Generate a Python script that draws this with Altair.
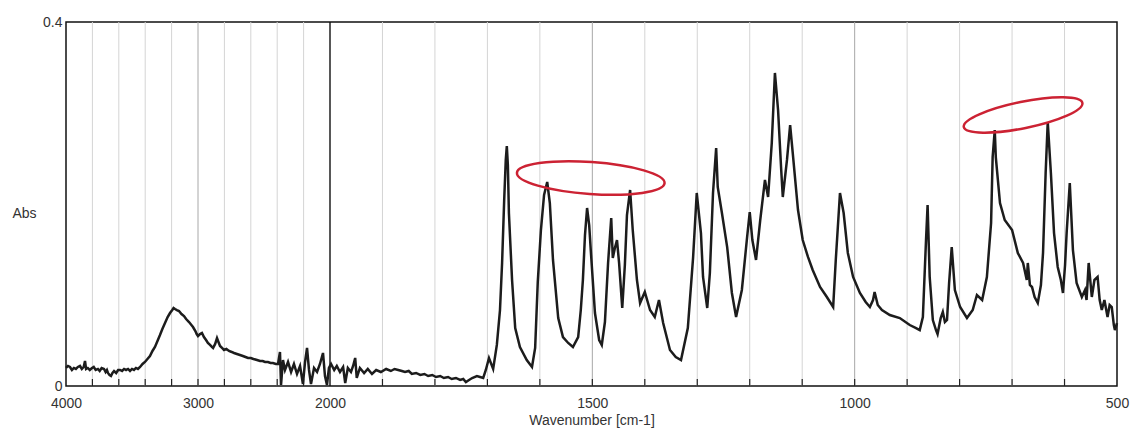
import altair as alt
import pandas as pd

# ---- spectrum (wavenumber cm-1, absorbance) ----
wavenumber = [
    4000, 3985, 3970, 3955, 3940, 3925, 3910, 3894, 3880, 3866, 3856, 3848, 3835, 3820, 3803,
    3790, 3775, 3758, 3745, 3730, 3712, 3700, 3690, 3682, 3670, 3659, 3648, 3636, 3620, 3605,
    3591, 3575, 3560, 3545, 3530, 3515, 3500, 3485, 3470, 3455, 3439, 3420, 3402,
    3383, 3364, 3345, 3326, 3307, 3288, 3270, 3250, 3230, 3212, 3195, 3185, 3174, 3160, 3144,
    3125, 3106, 3090, 3068, 3050, 3038, 3020, 3010, 3000, 2985, 2970, 2955, 2939, 2925, 2909,
    2895, 2886, 2870, 2856, 2845, 2833, 2818, 2803, 2785, 2765, 2745, 2727, 2705, 2682, 2660,
    2640, 2621, 2600, 2580, 2553, 2530, 2510, 2492, 2470, 2450, 2432, 2410, 2394,
    2379, 2371, 2356, 2341, 2318, 2295, 2273, 2250, 2227, 2205, 2189, 2174, 2159, 2144, 2121,
    2098, 2076, 2053, 2038, 2023, 2008,
    1998, 1992, 1987, 1981, 1975, 1971, 1966, 1960, 1956, 1952, 1949, 1943, 1935, 1928, 1920,
    1912, 1903, 1893, 1884, 1877, 1870, 1863, 1857, 1850, 1844, 1836, 1828, 1820, 1813, 1805,
    1798, 1790, 1783, 1775, 1768, 1760, 1752, 1746, 1741, 1735, 1729, 1720, 1714, 1708,
    1703, 1697, 1689, 1682, 1676, 1672, 1668, 1665, 1663, 1661, 1659, 1653, 1647,
    1638, 1625, 1615, 1609, 1604, 1598, 1592, 1586, 1581, 1575, 1565, 1556, 1546, 1537, 1527,
    1522, 1518, 1514, 1510, 1506, 1503, 1495, 1487, 1482, 1476, 1470, 1464, 1461, 1457, 1453,
    1449, 1443, 1438, 1434, 1428, 1423, 1415, 1409, 1400, 1390, 1381, 1373, 1365, 1352, 1341,
    1331, 1318, 1308, 1301, 1293, 1289, 1281, 1276, 1270, 1264, 1261, 1253, 1243, 1234, 1226,
    1215, 1205, 1200, 1195, 1188, 1180, 1171, 1165, 1158, 1152, 1146, 1140, 1137, 1129, 1123,
    1118, 1108, 1099, 1089, 1080, 1066, 1053, 1041, 1036, 1028, 1021, 1013, 1003, 990, 979,
    971, 965, 962, 956, 948, 933, 914, 895, 883, 876, 870, 864, 861, 857, 851,
    845, 842, 836, 832, 828, 824, 820, 815, 809, 799, 786, 775, 767, 757, 748,
    740, 737, 733, 731, 723, 714, 700, 689, 679, 672, 670, 666, 662, 657, 651,
    645, 641, 636, 632, 626, 620, 613, 607, 603, 599, 596, 590, 584, 577, 567,
    561, 558, 554, 548, 543, 537, 533, 529, 524, 518, 514, 510, 506, 504, 500,
]
absorbance = [
    0.0198, 0.0220, 0.0209, 0.0176, 0.0198, 0.0187, 0.0209, 0.0220, 0.0187, 0.0209, 0.0275, 0.0187, 0.0198, 0.0176, 0.0198,
    0.0209, 0.0176, 0.0187, 0.0165, 0.0198, 0.0187, 0.0154, 0.0176, 0.0143, 0.0121, 0.0110, 0.0143, 0.0165, 0.0143, 0.0176,
    0.0176, 0.0165, 0.0187, 0.0176, 0.0187, 0.0165, 0.0187, 0.0176, 0.0198, 0.0187, 0.0209, 0.0242, 0.0264,
    0.0297, 0.0330, 0.0385, 0.0429, 0.0495, 0.0560, 0.0626, 0.0692, 0.0758, 0.0802, 0.0835, 0.0857, 0.0846, 0.0835, 0.0824,
    0.0791, 0.0769, 0.0736, 0.0703, 0.0670, 0.0648, 0.0604, 0.0571, 0.0549, 0.0571, 0.0582, 0.0538, 0.0505, 0.0473, 0.0451,
    0.0429, 0.0418, 0.0462, 0.0527, 0.0484, 0.0440, 0.0418, 0.0396, 0.0407, 0.0385, 0.0374, 0.0363, 0.0352, 0.0341, 0.0330,
    0.0319, 0.0308, 0.0308, 0.0297, 0.0286, 0.0275, 0.0275, 0.0264, 0.0264, 0.0253, 0.0253, 0.0242, 0.0242,
    0.0374, 0.0011, 0.0286, 0.0176, 0.0264, 0.0154, 0.0242, 0.0132, 0.0220, 0.0022, 0.0264, 0.0418, 0.0176, 0.0022, 0.0198,
    0.0154, 0.0242, 0.0363, 0.0110, 0.0011, 0.0198,
    0.0242, 0.0176, 0.0220, 0.0154, 0.0209, 0.0033, 0.0198, 0.0154, 0.0220, 0.0308, 0.0088, 0.0198, 0.0143, 0.0187, 0.0132,
    0.0176, 0.0154, 0.0187, 0.0165, 0.0187, 0.0176, 0.0165, 0.0154, 0.0165, 0.0132, 0.0143, 0.0121, 0.0132, 0.0110, 0.0121,
    0.0099, 0.0110, 0.0088, 0.0099, 0.0077, 0.0088, 0.0066, 0.0077, 0.0044, 0.0066, 0.0088, 0.0110, 0.0099, 0.0088,
    0.0176, 0.0308, 0.0187, 0.0451, 0.0835, 0.1352, 0.2044, 0.2484, 0.2637, 0.2429, 0.1901, 0.1165, 0.0637,
    0.0429, 0.0286, 0.0209, 0.0418, 0.1143, 0.1714, 0.2099, 0.2242, 0.2011, 0.1385, 0.0747, 0.0538, 0.0473, 0.0429, 0.0538,
    0.0835, 0.1165, 0.1659, 0.1956, 0.1769, 0.1494, 0.0802, 0.0505, 0.0451, 0.0703, 0.1352, 0.1846, 0.1407, 0.1516, 0.1604,
    0.1352, 0.0857, 0.1330, 0.1879, 0.2154, 0.1714, 0.1165, 0.0912, 0.1033, 0.0835, 0.0758, 0.0945, 0.0692, 0.0396, 0.0319,
    0.0286, 0.0637, 0.1407, 0.2121, 0.1681, 0.1198, 0.0857, 0.1242, 0.2121, 0.2615, 0.2187, 0.1901, 0.1527, 0.1022, 0.0758,
    0.1055, 0.1637, 0.1912, 0.1604, 0.1385, 0.1824, 0.2264, 0.2077, 0.2670, 0.3440, 0.3033, 0.2374, 0.2077, 0.2484, 0.2868,
    0.2560, 0.1934, 0.1604, 0.1418, 0.1275, 0.1088, 0.0978, 0.0868, 0.1385, 0.2121, 0.1901, 0.1462, 0.1198, 0.1022, 0.0923,
    0.0868, 0.0945, 0.1033, 0.0890, 0.0835, 0.0780, 0.0747, 0.0670, 0.0637, 0.0615, 0.0758, 0.1604, 0.1989, 0.1198, 0.0725,
    0.0615, 0.0571, 0.0747, 0.0813, 0.0703, 0.0725, 0.1132, 0.1527, 0.1055, 0.0868, 0.0747, 0.0835, 0.1000, 0.0945, 0.1198,
    0.1791, 0.2516, 0.2813, 0.2516, 0.2011, 0.1824, 0.1714, 0.1462, 0.1352, 0.1165, 0.1352, 0.1110, 0.1088, 0.0978, 0.0912,
    0.1110, 0.1462, 0.2341, 0.2901, 0.2341, 0.1681, 0.1308, 0.1165, 0.1022, 0.1330, 0.1681, 0.2231, 0.1494, 0.1132, 0.0978,
    0.1055, 0.0945, 0.1352, 0.0978, 0.1165, 0.1198, 0.0945, 0.0835, 0.0945, 0.0758, 0.0890, 0.0868, 0.0670, 0.0615, 0.0692,
]

# ---- axis / grid values ----
x_tick_labels = [4000, 3000, 2000, 1500, 1000, 500]
minor_grid = [3800, 3600, 3400, 3200, 2800, 2600, 2400, 2200,
              1900, 1800, 1700, 1600, 1400, 1300, 1200, 1100,
              900, 800, 700, 600]
major_grid = [3000, 1500, 1000]
break_line = [2000]
tick_marks = [3800, 3600, 3400, 3200, 3000, 2800, 2600, 2400, 2200,
              1900, 1800, 1700, 1600, 1500, 1400, 1300, 1200, 1100, 1000,
              900, 800, 700, 600]
y_tick_labels = [0, 0.4]

# ---- highlighted regions (red ellipses): centre wavenumber, centre abs ----
ellipse_wn = [1503, 679]
ellipse_abs = [0.2286, 0.2978]

spec = pd.DataFrame({"wn": wavenumber, "abs": absorbance})
df_minor = pd.DataFrame({"wn": minor_grid})
df_major = pd.DataFrame({"wn": major_grid})
df_break = pd.DataFrame({"wn": break_line})
df_ticks = pd.DataFrame({"wn": tick_marks})
df_ell1 = pd.DataFrame({"wn": ellipse_wn[:1], "abs": ellipse_abs[:1]})
df_ell2 = pd.DataFrame({"wn": ellipse_wn[1:], "abs": ellipse_abs[1:]})

W, H = 1051, 364
FONT = "Liberation Sans"
xscale = alt.Scale(domain=[4000, 2000, 500], range=[0, 264, W], nice=False, zero=False)
yscale = alt.Scale(domain=[0, 0.4], nice=False, zero=False)

x_axis = alt.Axis(
    values=x_tick_labels, format="d", grid=False, ticks=False, domain=False,
    labelFont=FONT, labelFontSize=14, labelColor="#333333", labelPadding=10,
    labelFlush=False, labelOverlap=False,
    title="Wavenumber [cm-1]", titleFont=FONT, titleFontSize=14,
    titleFontWeight="normal", titleColor="#333333",
    titleBaseline="middle", titleY=34,
)
y_axis = alt.Axis(
    values=y_tick_labels, format=".1~f", grid=False, ticks=False, domain=False,
    labelFont=FONT, labelFontSize=14, labelColor="#333333", labelPadding=4,
    labelFlush=False, labelBaseline="middle",
    title="Abs", titleAngle=0, titleFont=FONT, titleFontSize=14,
    titleFontWeight="normal", titleColor="#333333",
    titleX=-42, titleY=191, titleBaseline="middle", titleAlign="center",
)

X = alt.X("wn:Q", scale=xscale, axis=x_axis)
Y = alt.Y("abs:Q", scale=yscale, axis=y_axis)

minor = alt.Chart(df_minor).mark_rule(color="#d4d4d4", strokeWidth=1).encode(x=X)
major = alt.Chart(df_major).mark_rule(color="#a8a8a8", strokeWidth=1).encode(x=X)
brk = alt.Chart(df_break).mark_rule(color="#111111", strokeWidth=1.4).encode(x=X)
ticks = alt.Chart(df_ticks).mark_rule(color="#222222", strokeWidth=1.2).encode(
    x=X, y=alt.value(H), y2=alt.value(H - 7)
)

line = alt.Chart(spec).mark_line(color="#1c1c1c", strokeWidth=2.5).encode(
    x=X, y=Y, order=alt.Order("wn:Q", sort="descending"),
)

# ellipse outline paths (unit square coordinates)
ell_path1 = ("M1,0C1,0.119,0.552,0.216,0,0.216C-0.552,0.216,-1,0.119,-1,0"
             "C-1,-0.119,-0.552,-0.216,0,-0.216C0.552,-0.216,1,-0.119,1,0Z")
ell_path2 = ("M1,0C1,0.12,0.552,0.218,0,0.218C-0.552,0.218,-1,0.12,-1,0"
             "C-1,-0.12,-0.552,-0.218,0,-0.218C0.552,-0.218,1,-0.12,1,0Z")

ell1 = alt.Chart(df_ell1).mark_point(
    shape=ell_path1, size=148 * 148, angle=4, filled=False,
    stroke="#cc2233", strokeWidth=2.5, opacity=1,
).encode(x=X, y=Y)

ell2 = alt.Chart(df_ell2).mark_point(
    shape=ell_path2, size=121 * 121, angle=348.5, filled=False,
    stroke="#cc2233", strokeWidth=2.5, opacity=1,
).encode(x=X, y=Y)

chart = (
    alt.layer(minor, major, brk, ticks, line, ell1, ell2)
    .properties(
        width=W, height=H,
        autosize=alt.AutoSizeParams(type="none"),
        padding={"left": 66, "top": 22, "right": 16, "bottom": 46},
        background="white",
    )
    .configure_view(stroke="#111111", strokeWidth=1.5)
)

chart.save("out.html", embed_options={"renderer": "svg", "actions": False})
